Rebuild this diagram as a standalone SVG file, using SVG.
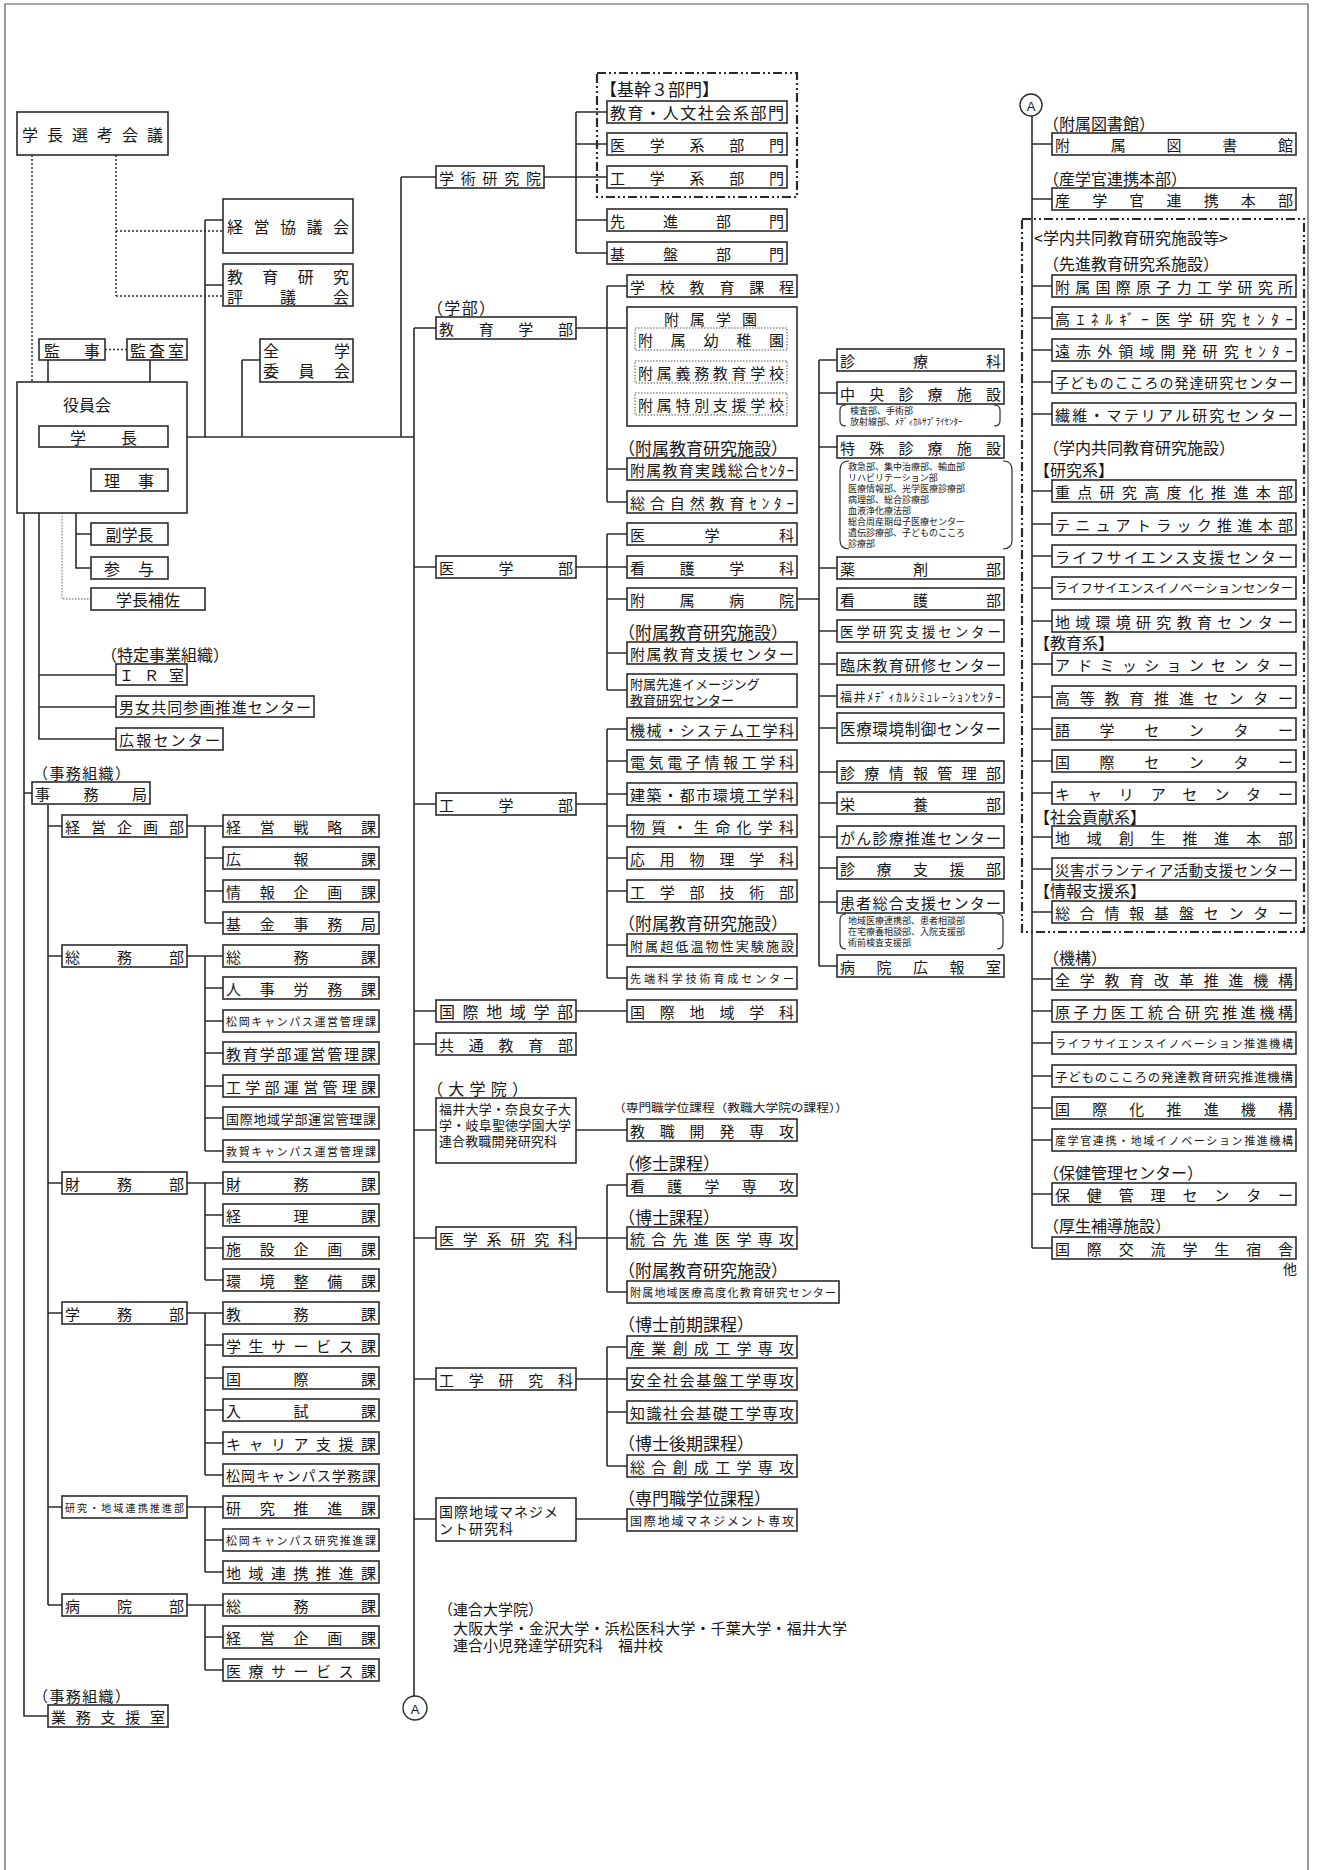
<svg xmlns="http://www.w3.org/2000/svg" width="1317" height="1870" viewBox="0 0 1317 1870">
<style>
.bx{fill:#fff;stroke:#2b2b2b;stroke-width:1.6}
.ib{fill:none;stroke:#555;stroke-width:1;stroke-dasharray:1.5 1.5}
.ln{fill:none;stroke:#2b2b2b;stroke-width:1.6}
.dt{fill:none;stroke:#2b2b2b;stroke-width:1.5;stroke-dasharray:2 2}
.gd{fill:none;stroke:#8a8a8a;stroke-width:1.3;stroke-dasharray:1.5 1.5}
.dd{fill:none;stroke:#2b2b2b;stroke-width:2.2;stroke-dasharray:9 3 2 3 2 3}
.fr{fill:none;stroke:#555;stroke-width:1.2}
text{font-family:"Noto Sans CJK JP","Noto Sans CJK SC",sans-serif;fill:#161616;dominant-baseline:central;font-size:15px}
.s16{font-size:16px}.s17{font-size:17px}.s14{font-size:14px}.s13{font-size:13px}.s12{font-size:12px}.s11{font-size:11px}.s10{font-size:10px}.s9{font-size:9px}
</style>
<rect width="1317" height="1870" fill="#fff"/>
<path class="fr" d="M5,1870 V4 H1308 V1870"/>

<g id="connectors">
<path class="dt" d="M32,155 V437 H39 M116,155 V296 M116,231 H223 M116,296 H223 M105,349.5 H127"/>
<path class="gd" d="M62,447 V599 H91"/>
<path class="ln" d="M205,220 H223 M205,285 H223 M205,220 V437 M242,360 H260 M242,360 V437 M187,437 H414 M401,177 V437 M401,177 H436 M48,360 V382 M150,360 V426 M76,447 V568 H91 M76,480 H91 M76,534 H91"/>
<path class="ln" d="M24,513 V1716 H48 M24,793 H32 M39,513 V739 H116 M39,675 H116 M39,707 H116"/>
<path class="ln" d="M48,805 V1605 M48,826 H62 M48,956 H62 M48,1183 H62 M48,1313 H62 M48,1507 H62 M48,1605 H62"/>
<path class="ln" d="M187,826 H223 M205,826 V923 M205,858 H223 M205,891 H223 M205,923 H223"/>
<path class="ln" d="M187,956 H223 M205,956 V1151 M205,988 H223 M205,1021 H223 M205,1053 H223 M205,1086 H223 M205,1118 H223 M205,1151 H223"/>
<path class="ln" d="M187,1183 H223 M205,1183 V1280 M205,1215 H223 M205,1248 H223 M205,1280 H223"/>
<path class="ln" d="M187,1313 H223 M205,1313 V1475 M205,1345 H223 M205,1378 H223 M205,1410 H223 M205,1443 H223 M205,1475 H223"/>
<path class="ln" d="M187,1507 H223 M205,1507 V1572 M205,1540 H223 M205,1572 H223"/>
<path class="ln" d="M187,1605 H223 M205,1605 V1670 M205,1637 H223 M205,1670 H223"/>
<path class="ln" d="M544,177 H607 M576,112 V253 M576,112 H607 M576,144 H607 M576,220 H607 M576,253 H607"/>
<path class="ln" d="M414,328 V1696 M414,328 H436 M576,328 H627 M607,286 V502 M607,286 H627 M607,469 H627 M607,502 H627"/>
<path class="ln" d="M414,567 H436 M576,567 H627 M607,534 V690 M607,534 H627 M607,599 H627 M607,653 H627 M607,690 H627 M797,599 H819"/>
<path class="ln" d="M414,804 H436 M576,804 H607 M607,729 V978 M607,729 H627 M607,761 H627 M607,794 H627 M607,826 H627 M607,858 H627 M607,891 H627 M607,945 H627 M607,978 H627"/>
<path class="ln" d="M414,1011 H436 M576,1011 H627 M414,1044 H436 M414,1130 H436 M576,1130 H627"/>
<path class="ln" d="M414,1238 H436 M576,1238 H627 M607,1185 V1292 M607,1185 H627 M607,1292 H627"/>
<path class="ln" d="M414,1379 H436 M576,1379 H627 M607,1347 V1466 M607,1347 H627 M607,1412 H627 M607,1466 H627"/>
<path class="ln" d="M414,1519 H436 M576,1519 H627"/>
<path class="ln" d="M819,360 V966 M819,360 H837 M819,393 H837 M819,447 H837 M819,568 H837 M819,631 H837 M819,664 H837 M819,696 H837 M819,728 H837 M819,772 H837 M819,803 H837 M819,837 H837 M819,868 H837 M819,902 H837 M819,966 H837"/>
<path class="ln" d="M1032,116 V1248 M1032,144 H1052 M1032,199 H1052 M1032,286 H1052 M1032,318 H1052 M1032,350 H1052 M1032,382 H1052 M1032,414 H1052 M1032,491 H1052 M1032,524 H1052 M1032,556 H1052 M1032,588 H1052 M1032,621 H1052 M1032,664 H1052 M1032,697 H1052 M1032,729 H1052 M1032,761 H1052 M1032,793 H1052 M1032,837 H1052 M1032,869 H1052 M1032,912 H1052 M1032,979 H1052 M1032,1011 H1052 M1032,1043 H1052 M1032,1076 H1052 M1032,1108 H1052 M1032,1140 H1052 M1032,1194 H1052 M1032,1248 H1052"/>
</g>

<g id="labels">
<text x="101" y="654" class="s16">（特定事業組織）</text>
<text x="33" y="772" textLength="97">（事務組織）</text>
<text x="33" y="1695" textLength="97">（事務組織）</text>
<text x="600" y="88" class="s17">【基幹３部門】</text>
<text x="427" y="307" class="s16" textLength="68">（学部）</text>
<text x="618" y="447" class="s17">（附属教育研究施設）</text>
<text x="618" y="631" class="s17">（附属教育研究施設）</text>
<text x="618" y="922" class="s17">（附属教育研究施設）</text>
<text x="427" y="1088" class="s16" textLength="101">（大学院）</text>
<text x="613" y="1107" class="s11" textLength="235" lengthAdjust="spacingAndGlyphs">（専門職学位課程（教職大学院の課程））</text>
<text x="618" y="1162" class="s17">（修士課程）</text>
<text x="618" y="1216" class="s17">（博士課程）</text>
<text x="618" y="1269" class="s17">（附属教育研究施設）</text>
<text x="618" y="1323" class="s17">（博士前期課程）</text>
<text x="618" y="1442" class="s17">（博士後期課程）</text>
<text x="618" y="1497" class="s17">（専門職学位課程）</text>
<text x="438" y="1608">（連合大学院）</text>
<text x="453" y="1627" textLength="394">大阪大学・金沢大学・浜松医科大学・千葉大学・福井大学</text>
<text x="453" y="1644">連合小児発達学研究科　福井校</text>
<text x="1043" y="123" class="s16">（附属図書館）</text>
<text x="1043" y="178" class="s16">（産学官連携本部）</text>
<text x="1034" y="237" class="s16">&lt;学内共同教育研究施設等&gt;</text>
<text x="1043" y="263" class="s16">（先進教育研究系施設）</text>
<text x="1043" y="447" class="s16">（学内共同教育研究施設）</text>
<text x="1034" y="469" class="s16">【研究系】</text>
<text x="1034" y="642" class="s16">【教育系】</text>
<text x="1034" y="816" class="s16">【社会貢献系】</text>
<text x="1034" y="890" class="s16">【情報支援系】</text>
<text x="1043" y="957" class="s16">（機構）</text>
<text x="1043" y="1172" class="s16">（保健管理センター）</text>
<text x="1043" y="1225" class="s16">（厚生補導施設）</text>
<text x="1283" y="1268" class="s14">他</text>
</g>

<g id="n-senko"><rect class="bx" x="17" y="112" width="151" height="43"/><text x="22" y="133.5" class="s16" textLength="141">学長選考会議</text></g>
<g id="n-keiei-kyogikai"><rect class="bx" x="223" y="199" width="130" height="54"/><text x="227" y="226" class="s16" textLength="122">経営協議会</text></g>
<g id="n-hyogikai"><rect class="bx" x="223" y="264" width="130" height="42"/><text x="227" y="276" class="s16" textLength="122">教育研究</text><text x="227" y="296" class="s16" textLength="122">評議会</text></g>
<g id="n-zengaku"><rect class="bx" x="260" y="339" width="93" height="43"/><text x="263" y="350" class="s16" textLength="87">全学</text><text x="263" y="370" class="s16" textLength="87">委員会</text></g>
<g id="n-kanji"><rect class="bx" x="39" y="339" width="66" height="21"/><text x="44" y="349.5" class="s16" textLength="56">監事</text></g>
<g id="n-kansashitsu"><rect class="bx" x="127" y="339" width="60" height="21"/><text x="130" y="349.5" class="s16" textLength="54">監査室</text></g>
<g id="n-yakuinkai"><rect class="bx" x="17" y="382" width="170" height="131"/><text x="87" y="404" class="s16" text-anchor="middle">役員会</text></g>
<g id="n-gakucho"><rect class="bx" x="39" y="426" width="129" height="21"/><text x="70" y="436.5" class="s16" textLength="67">学長</text></g>
<g id="n-riji"><rect class="bx" x="91" y="469" width="77" height="22"/><text x="104" y="480" class="s16" textLength="50">理事</text></g>
<g id="n-fukugakucho"><rect class="bx" x="91" y="523" width="77" height="22"/><text x="129.5" y="534" class="s16" text-anchor="middle">副学長</text></g>
<g id="n-sanyo"><rect class="bx" x="91" y="557" width="77" height="22"/><text x="104" y="568" class="s16" textLength="50">参与</text></g>
<g id="n-hosa"><rect class="bx" x="91" y="588" width="114" height="22"/><text x="148" y="599" class="s16" text-anchor="middle">学長補佐</text></g>
<g id="n-ir"><rect class="bx" x="116" y="664" width="71" height="21"/><text x="119" y="674.5" textLength="65">ＩＲ室</text></g>
<g id="n-danjo"><rect class="bx" x="116" y="696" width="198" height="21"/><text x="119" y="706.5" textLength="192">男女共同参画推進センター</text></g>
<g id="n-koho-c"><rect class="bx" x="116" y="728" width="107" height="22"/><text x="119" y="739" textLength="101">広報センター</text></g>
<g id="n-jimukyoku"><rect class="bx" x="32" y="782" width="118" height="22"/><text x="35" y="793" textLength="112">事務局</text></g>

<g id="n-keiei-kikaku-bu"><rect class="bx" x="62" y="815" width="125" height="22"/><text x="65" y="826" textLength="119">経営企画部</text></g>
<g id="n-senryaku"><rect class="bx" x="223" y="815" width="156" height="22"/><text x="226" y="826" textLength="150">経営戦略課</text></g>
<g id="n-kohoka"><rect class="bx" x="223" y="847" width="156" height="22"/><text x="226" y="858" textLength="150">広報課</text></g>
<g id="n-johokikaku"><rect class="bx" x="223" y="880" width="156" height="22"/><text x="226" y="891" textLength="150">情報企画課</text></g>
<g id="n-kikin"><rect class="bx" x="223" y="912" width="156" height="22"/><text x="226" y="923" textLength="150">基金事務局</text></g>
<g id="n-somubu"><rect class="bx" x="62" y="945" width="125" height="22"/><text x="65" y="956" textLength="119">総務部</text></g>
<g id="n-somuka"><rect class="bx" x="223" y="945" width="156" height="22"/><text x="226" y="956" textLength="150">総務課</text></g>
<g id="n-jinji"><rect class="bx" x="223" y="977" width="156" height="22"/><text x="226" y="988" textLength="150">人事労務課</text></g>
<g id="n-matsuoka-unei"><rect class="bx" x="223" y="1010" width="156" height="22"/><text x="226" y="1021" class="s11" textLength="150">松岡キャンパス運営管理課</text></g>
<g id="n-kyoiku-unei"><rect class="bx" x="223" y="1042" width="156" height="22"/><text x="226" y="1053" textLength="150">教育学部運営管理課</text></g>
<g id="n-kogaku-unei"><rect class="bx" x="223" y="1075" width="156" height="22"/><text x="226" y="1086" textLength="150">工学部運営管理課</text></g>
<g id="n-kokusai-unei"><rect class="bx" x="223" y="1107" width="156" height="22"/><text x="226" y="1118" class="s13" textLength="150">国際地域学部運営管理課</text></g>
<g id="n-tsuruga-unei"><rect class="bx" x="223" y="1140" width="156" height="22"/><text x="226" y="1151" class="s11" textLength="150">敦賀キャンパス運営管理課</text></g>
<g id="n-zaimubu"><rect class="bx" x="62" y="1172" width="125" height="22"/><text x="65" y="1183" textLength="119">財務部</text></g>
<g id="n-zaimuka"><rect class="bx" x="223" y="1172" width="156" height="22"/><text x="226" y="1183" textLength="150">財務課</text></g>
<g id="n-keiri"><rect class="bx" x="223" y="1204" width="156" height="22"/><text x="226" y="1215" textLength="150">経理課</text></g>
<g id="n-shisetsu"><rect class="bx" x="223" y="1237" width="156" height="22"/><text x="226" y="1248" textLength="150">施設企画課</text></g>
<g id="n-kankyo"><rect class="bx" x="223" y="1269" width="156" height="22"/><text x="226" y="1280" textLength="150">環境整備課</text></g>
<g id="n-gakumubu"><rect class="bx" x="62" y="1302" width="125" height="22"/><text x="65" y="1313" textLength="119">学務部</text></g>
<g id="n-kyomu"><rect class="bx" x="223" y="1302" width="156" height="22"/><text x="226" y="1313" textLength="150">教務課</text></g>
<g id="n-gakusei"><rect class="bx" x="223" y="1334" width="156" height="22"/><text x="226" y="1345" textLength="150">学生サービス課</text></g>
<g id="n-kokusaika"><rect class="bx" x="223" y="1367" width="156" height="22"/><text x="226" y="1378" textLength="150">国際課</text></g>
<g id="n-nyushi"><rect class="bx" x="223" y="1399" width="156" height="22"/><text x="226" y="1410" textLength="150">入試課</text></g>
<g id="n-career-ka"><rect class="bx" x="223" y="1432" width="156" height="22"/><text x="226" y="1443" textLength="150">キャリア支援課</text></g>
<g id="n-matsuoka-gakumu"><rect class="bx" x="223" y="1464" width="156" height="22"/><text x="226" y="1475" class="s14" textLength="150">松岡キャンパス学務課</text></g>
<g id="n-kenkyu-bu"><rect class="bx" x="62" y="1496" width="125" height="22"/><text x="65" y="1507" class="s10" textLength="119">研究・地域連携推進部</text></g>
<g id="n-kenkyu-suishin"><rect class="bx" x="223" y="1496" width="156" height="22"/><text x="226" y="1507" textLength="150">研究推進課</text></g>
<g id="n-matsuoka-kenkyu"><rect class="bx" x="223" y="1529" width="156" height="22"/><text x="226" y="1540" class="s11" textLength="150">松岡キャンパス研究推進課</text></g>
<g id="n-chiiki-renkei"><rect class="bx" x="223" y="1561" width="156" height="22"/><text x="226" y="1572" textLength="150">地域連携推進課</text></g>
<g id="n-byoinbu"><rect class="bx" x="62" y="1594" width="125" height="22"/><text x="65" y="1605" textLength="119">病院部</text></g>
<g id="n-byoin-somu"><rect class="bx" x="223" y="1594" width="156" height="22"/><text x="226" y="1605" textLength="150">総務課</text></g>
<g id="n-byoin-keiei"><rect class="bx" x="223" y="1626" width="156" height="22"/><text x="226" y="1637" textLength="150">経営企画課</text></g>
<g id="n-iryo-service"><rect class="bx" x="223" y="1659" width="156" height="22"/><text x="226" y="1670" textLength="150">医療サービス課</text></g>
<g id="n-gyomu"><rect class="bx" x="48" y="1705" width="120" height="22"/><text x="51" y="1716" textLength="114">業務支援室</text></g>

<g id="n-gakujutsu"><rect class="bx" x="436" y="166" width="108" height="22"/><text x="439" y="177" textLength="102">学術研究院</text></g>
<g id="n-kikan"><rect class="dd" x="597" y="73" width="200" height="124"/></g>
<g id="n-kyoiku-bumon"><rect class="bx" x="607" y="101" width="180" height="22"/><text x="610" y="112" class="s16" textLength="174">教育・人文社会系部門</text></g>
<g id="n-igaku-bumon"><rect class="bx" x="607" y="133" width="180" height="22"/><text x="610" y="144" textLength="174">医学系部門</text></g>
<g id="n-kogaku-bumon"><rect class="bx" x="607" y="166" width="180" height="22"/><text x="610" y="177" textLength="174">工学系部門</text></g>
<g id="n-senshin-bumon"><rect class="bx" x="607" y="209" width="180" height="22"/><text x="610" y="220" textLength="174">先進部門</text></g>
<g id="n-kiban-bumon"><rect class="bx" x="607" y="242" width="180" height="22"/><text x="610" y="253" textLength="174">基盤部門</text></g>

<g id="n-kyoikugakubu"><rect class="bx" x="436" y="317" width="140" height="22"/><text x="439" y="328" textLength="134">教育学部</text></g>
<g id="n-gakko"><rect class="bx" x="627" y="275" width="170" height="22"/><text x="630" y="286" textLength="164">学校教育課程</text></g>
<g id="n-fuzoku-gakuen"><rect class="bx" x="627" y="307" width="170" height="119"/><text x="664" y="318" textLength="93">附属学園</text>
<rect class="ib" x="635" y="328" width="152" height="22"/><text x="638" y="339" textLength="146">附属幼稚園</text>
<rect class="ib" x="635" y="361" width="152" height="22"/><text x="638" y="372" textLength="146">附属義務教育学校</text>
<rect class="ib" x="635" y="393" width="152" height="22"/><text x="638" y="404" textLength="146">附属特別支援学校</text></g>
<g id="n-jissen"><rect class="bx" x="627" y="458" width="170" height="22"/><text x="630" y="469" textLength="164">附属教育実践総合ｾﾝﾀｰ</text></g>
<g id="n-shizen"><rect class="bx" x="627" y="491" width="170" height="22"/><text x="630" y="502" textLength="164">総合自然教育ｾﾝﾀｰ</text></g>

<g id="n-igakubu"><rect class="bx" x="436" y="556" width="140" height="22"/><text x="439" y="567" textLength="134">医学部</text></g>
<g id="n-igakuka"><rect class="bx" x="627" y="523" width="170" height="22"/><text x="630" y="534" textLength="164">医学科</text></g>
<g id="n-kango-gakka"><rect class="bx" x="627" y="556" width="170" height="22"/><text x="630" y="567" textLength="164">看護学科</text></g>
<g id="n-fuzoku-byoin"><rect class="bx" x="627" y="588" width="170" height="22"/><text x="630" y="599" textLength="164">附属病院</text></g>
<g id="n-kyoiku-shien"><rect class="bx" x="627" y="642" width="170" height="22"/><text x="630" y="653" textLength="164">附属教育支援センター</text></g>
<g id="n-imaging"><rect class="bx" x="627" y="674" width="170" height="33"/><text x="630" y="683" class="s13">附属先進イメージング</text><text x="630" y="699" class="s13">教育研究センター</text></g>

<g id="n-kogakubu"><rect class="bx" x="436" y="793" width="140" height="22"/><text x="439" y="804" textLength="134">工学部</text></g>
<g id="n-kikai"><rect class="bx" x="627" y="718" width="170" height="22"/><text x="630" y="729" textLength="164">機械・システム工学科</text></g>
<g id="n-denki"><rect class="bx" x="627" y="750" width="170" height="22"/><text x="630" y="761" textLength="164">電気電子情報工学科</text></g>
<g id="n-kenchiku"><rect class="bx" x="627" y="783" width="170" height="22"/><text x="630" y="794" textLength="164">建築・都市環境工学科</text></g>
<g id="n-busshitsu"><rect class="bx" x="627" y="815" width="170" height="22"/><text x="630" y="826" textLength="164">物質・生命化学科</text></g>
<g id="n-oyo"><rect class="bx" x="627" y="847" width="170" height="22"/><text x="630" y="858" textLength="164">応用物理学科</text></g>
<g id="n-gijutsu"><rect class="bx" x="627" y="880" width="170" height="22"/><text x="630" y="891" textLength="164">工学部技術部</text></g>
<g id="n-choteion"><rect class="bx" x="627" y="934" width="170" height="22"/><text x="630" y="945" class="s13" textLength="164">附属超低温物性実験施設</text></g>
<g id="n-sentan"><rect class="bx" x="627" y="967" width="170" height="22"/><text x="630" y="978" class="s11" textLength="164">先端科学技術育成センター</text></g>

<g id="n-kokusai-gakubu"><rect class="bx" x="436" y="1000" width="140" height="22"/><text x="439" y="1011" class="s16" textLength="134">国際地域学部</text></g>
<g id="n-kokusai-gakka"><rect class="bx" x="627" y="1000" width="170" height="22"/><text x="630" y="1011" textLength="164">国際地域学科</text></g>
<g id="n-kyotsu"><rect class="bx" x="436" y="1033" width="140" height="22"/><text x="439" y="1044" textLength="134">共通教育部</text></g>
<g id="n-rengo-kyoshoku"><rect class="bx" x="436" y="1098" width="140" height="65"/><text x="439" y="1108" textLength="132" class="s13">福井大学・奈良女子大</text><text x="439" y="1124" textLength="132" class="s13">学・岐阜聖徳学園大学</text><text x="439" y="1140" class="s13" textLength="118">連合教職開発研究科</text></g>
<g id="n-kyoshoku"><rect class="bx" x="627" y="1119" width="170" height="22"/><text x="630" y="1130" textLength="164">教職開発専攻</text></g>
<g id="n-igakukei"><rect class="bx" x="436" y="1227" width="140" height="22"/><text x="439" y="1238" textLength="134">医学系研究科</text></g>
<g id="n-kango-senko"><rect class="bx" x="627" y="1174" width="170" height="22"/><text x="630" y="1185" textLength="164">看護学専攻</text></g>
<g id="n-togo-senshin"><rect class="bx" x="627" y="1227" width="170" height="22"/><text x="630" y="1238" textLength="164">統合先進医学専攻</text></g>
<g id="n-chiiki-iryo"><rect class="bx" x="627" y="1281" width="212" height="22"/><text x="630" y="1292" class="s11" textLength="206">附属地域医療高度化教育研究センター</text></g>
<g id="n-kogaku-kenkyuka"><rect class="bx" x="436" y="1368" width="140" height="22"/><text x="439" y="1379" textLength="134">工学研究科</text></g>
<g id="n-sangyo"><rect class="bx" x="627" y="1336" width="170" height="22"/><text x="630" y="1347" textLength="164">産業創成工学専攻</text></g>
<g id="n-anzen"><rect class="bx" x="627" y="1368" width="170" height="22"/><text x="630" y="1379" textLength="164">安全社会基盤工学専攻</text></g>
<g id="n-chishiki"><rect class="bx" x="627" y="1401" width="170" height="22"/><text x="630" y="1412" textLength="164">知識社会基礎工学専攻</text></g>
<g id="n-sogo-sosei"><rect class="bx" x="627" y="1455" width="170" height="22"/><text x="630" y="1466" textLength="164">総合創成工学専攻</text></g>
<g id="n-management-kenkyuka"><rect class="bx" x="436" y="1498" width="140" height="43"/><text x="439" y="1511" class="s14" textLength="119">国際地域マネジメ</text><text x="439" y="1528" class="s14" textLength="74">ント研究科</text></g>
<g id="n-management-senko"><rect class="bx" x="627" y="1509" width="170" height="22"/><text x="630" y="1520" class="s12" textLength="164">国際地域マネジメント専攻</text></g>
<g id="n-a-bottom"><circle cx="415" cy="1708" r="12" fill="#fff" stroke="#2b2b2b" stroke-width="1.4"/><text x="415" y="1709" text-anchor="middle" style="font-family:'Liberation Sans',sans-serif;font-size:13px">A</text></g>

<g id="n-shinryoka"><rect class="bx" x="837" y="349" width="167" height="22"/><text x="840" y="360" textLength="161">診療科</text></g>
<g id="n-chuo"><rect class="bx" x="837" y="382" width="167" height="22"/><text x="840" y="393" textLength="161">中央診療施設</text>
<path class="ln" style="stroke-width:1.2" d="M846,405 Q840,405 840,410 V421 Q840,426 846,426 M994,405 Q1000,405 1000,410 V421 Q1000,426 994,426"/>
<text x="850" y="410" class="s9">検査部、手術部</text><text x="850" y="421" class="s9">放射線部、ﾒﾃﾞｨｶﾙｻﾌﾟﾗｲｾﾝﾀｰ</text></g>
<g id="n-tokushu"><rect class="bx" x="837" y="436" width="167" height="22"/><text x="840" y="447" textLength="161">特殊診療施設</text>
<path class="ln" style="stroke-width:1.2" d="M849,461 Q840,461 840,470 V540 Q840,549 849,549 M1003,461 Q1012,461 1012,470 V540 Q1012,549 1003,549"/>
<text x="848" y="466" class="s9">救急部、集中治療部、輸血部</text>
<text x="848" y="477" class="s9">リハビリテーション部</text>
<text x="848" y="488" class="s9">医療情報部、光学医療診療部</text>
<text x="848" y="499" class="s9">病理部、総合診療部</text>
<text x="848" y="510" class="s9">血液浄化療法部</text>
<text x="848" y="521" class="s9">総合周産期母子医療センター</text>
<text x="848" y="532" class="s9">遺伝診療部、子どものこころ</text>
<text x="848" y="543" class="s9">診療部</text></g>
<g id="n-yakuzai"><rect class="bx" x="837" y="557" width="167" height="22"/><text x="840" y="568" textLength="161">薬剤部</text></g>
<g id="n-kangobu"><rect class="bx" x="837" y="588" width="167" height="22"/><text x="840" y="599" textLength="161">看護部</text></g>
<g id="n-igaku-kenkyu-shien"><rect class="bx" x="837" y="620" width="167" height="22"/><text x="840" y="631" style="font-size:13.5px" textLength="161">医学研究支援センター</text></g>
<g id="n-rinsho"><rect class="bx" x="837" y="653" width="167" height="22"/><text x="840" y="664" textLength="161">臨床教育研修センター</text></g>
<g id="n-simulation"><rect class="bx" x="837" y="685" width="167" height="22"/><text x="840" y="696" class="s12" textLength="161">福井ﾒﾃﾞｨｶﾙｼﾐｭﾚｰｼｮﾝｾﾝﾀｰ</text></g>
<g id="n-iryo-kankyo"><rect class="bx" x="837" y="713" width="167" height="30"/><text x="840" y="728" style="font-size:15.5px" textLength="161">医療環境制御センター</text></g>
<g id="n-shinryo-joho"><rect class="bx" x="837" y="761" width="167" height="22"/><text x="840" y="772" textLength="161">診療情報管理部</text></g>
<g id="n-eiyo"><rect class="bx" x="837" y="792" width="167" height="22"/><text x="840" y="803" textLength="161">栄養部</text></g>
<g id="n-gan"><rect class="bx" x="837" y="826" width="167" height="22"/><text x="840" y="837" textLength="161">がん診療推進センター</text></g>
<g id="n-shinryo-shien"><rect class="bx" x="837" y="857" width="167" height="22"/><text x="840" y="868" textLength="161">診療支援部</text></g>
<g id="n-kanja"><rect class="bx" x="837" y="891" width="167" height="22"/><text x="840" y="902" textLength="161">患者総合支援センター</text>
<path class="ln" style="stroke-width:1.2" d="M846,914 Q840,914 840,920 V943 Q840,949 846,949 M997,914 Q1003,914 1003,920 V943 Q1003,949 997,949"/>
<text x="848" y="920" class="s9">地域医療連携部、患者相談部</text>
<text x="848" y="931" class="s9">在宅療養相談部、入院支援部</text>
<text x="848" y="942" class="s9">術前検査支援部</text></g>
<g id="n-byoin-koho"><rect class="bx" x="837" y="955" width="167" height="22"/><text x="840" y="966" textLength="161">病院広報室</text></g>

<g id="n-a-top"><circle cx="1031" cy="105" r="11" fill="#fff" stroke="#2b2b2b" stroke-width="1.4"/><text x="1031" y="106" text-anchor="middle" style="font-family:'Liberation Sans',sans-serif;font-size:13px">A</text></g>
<g id="n-gakunai"><rect class="dd" x="1022" y="219" width="282" height="713"/></g>
<g id="n-toshokan"><rect class="bx" x="1052" y="133" width="244" height="22"/><text x="1055" y="144" textLength="238">附属図書館</text></g>
<g id="n-sangakukan"><rect class="bx" x="1052" y="188" width="244" height="22"/><text x="1055" y="199" textLength="238">産学官連携本部</text></g>
<g id="n-genshiryoku"><rect class="bx" x="1052" y="275" width="244" height="22"/><text x="1055" y="286" textLength="238">附属国際原子力工学研究所</text></g>
<g id="n-koenergy"><rect class="bx" x="1052" y="307" width="244" height="22"/><text x="1055" y="318" textLength="238">高ｴﾈﾙｷﾞｰ医学研究ｾﾝﾀｰ</text></g>
<g id="n-ensekigai"><rect class="bx" x="1052" y="339" width="244" height="22"/><text x="1055" y="350" textLength="238">遠赤外領域開発研究ｾﾝﾀｰ</text></g>
<g id="n-kodomo-c"><rect class="bx" x="1052" y="371" width="244" height="22"/><text x="1055" y="382" class="s14" textLength="238">子どものこころの発達研究センター</text></g>
<g id="n-seni"><rect class="bx" x="1052" y="403" width="244" height="22"/><text x="1055" y="414" textLength="238">繊維・マテリアル研究センター</text></g>
<g id="n-juten"><rect class="bx" x="1052" y="480" width="244" height="22"/><text x="1055" y="491" textLength="238">重点研究高度化推進本部</text></g>
<g id="n-tenure"><rect class="bx" x="1052" y="513" width="244" height="22"/><text x="1055" y="524" textLength="238">テニュアトラック推進本部</text></g>
<g id="n-life-shien"><rect class="bx" x="1052" y="545" width="244" height="22"/><text x="1055" y="556" textLength="238">ライフサイエンス支援センター</text></g>
<g id="n-life-inno"><rect class="bx" x="1052" y="577" width="244" height="22"/><text x="1055" y="588" style="font-size:12.4px" textLength="238">ライフサイエンスイノベーションセンター</text></g>
<g id="n-chiiki-kankyo"><rect class="bx" x="1052" y="610" width="244" height="22"/><text x="1055" y="621" textLength="238">地域環境研究教育センター</text></g>
<g id="n-admission"><rect class="bx" x="1052" y="653" width="244" height="22"/><text x="1055" y="664" textLength="238">アドミッションセンター</text></g>
<g id="n-koto"><rect class="bx" x="1052" y="686" width="244" height="22"/><text x="1055" y="697" textLength="238">高等教育推進センター</text></g>
<g id="n-gogaku"><rect class="bx" x="1052" y="718" width="244" height="22"/><text x="1055" y="729" textLength="238">語学センター</text></g>
<g id="n-kokusai-c"><rect class="bx" x="1052" y="750" width="244" height="22"/><text x="1055" y="761" textLength="238">国際センター</text></g>
<g id="n-career-c"><rect class="bx" x="1052" y="782" width="244" height="22"/><text x="1055" y="793" textLength="238">キャリアセンター</text></g>
<g id="n-chiiki-sosei"><rect class="bx" x="1052" y="826" width="244" height="22"/><text x="1055" y="837" textLength="238">地域創生推進本部</text></g>
<g id="n-saigai"><rect class="bx" x="1052" y="858" width="244" height="22"/><text x="1055" y="869" style="font-size:14.5px" textLength="238">災害ボランティア活動支援センター</text></g>
<g id="n-sogo-joho"><rect class="bx" x="1052" y="901" width="244" height="22"/><text x="1055" y="912" textLength="238">総合情報基盤センター</text></g>
<g id="n-zengaku-kaikaku"><rect class="bx" x="1052" y="968" width="244" height="22"/><text x="1055" y="979" textLength="238">全学教育改革推進機構</text></g>
<g id="n-genshiryoku-ikou"><rect class="bx" x="1052" y="1000" width="244" height="22"/><text x="1055" y="1011" textLength="238">原子力医工統合研究推進機構</text></g>
<g id="n-life-kiko"><rect class="bx" x="1052" y="1032" width="244" height="22"/><text x="1055" y="1043" class="s11" textLength="238">ライフサイエンスイノベーション推進機構</text></g>
<g id="n-kodomo-kiko"><rect class="bx" x="1052" y="1065" width="244" height="22"/><text x="1055" y="1076" style="font-size:12.5px" textLength="238">子どものこころの発達教育研究推進機構</text></g>
<g id="n-kokusaika-kiko"><rect class="bx" x="1052" y="1097" width="244" height="22"/><text x="1055" y="1108" textLength="238">国際化推進機構</text></g>
<g id="n-sangakukan-kiko"><rect class="bx" x="1052" y="1129" width="244" height="22"/><text x="1055" y="1140" class="s11" textLength="238">産学官連携・地域イノベーション推進機構</text></g>
<g id="n-hoken"><rect class="bx" x="1052" y="1183" width="244" height="22"/><text x="1055" y="1194" textLength="238">保健管理センター</text></g>
<g id="n-shukusha"><rect class="bx" x="1052" y="1237" width="244" height="22"/><text x="1055" y="1248" textLength="238">国際交流学生宿舎</text></g>
</svg>
